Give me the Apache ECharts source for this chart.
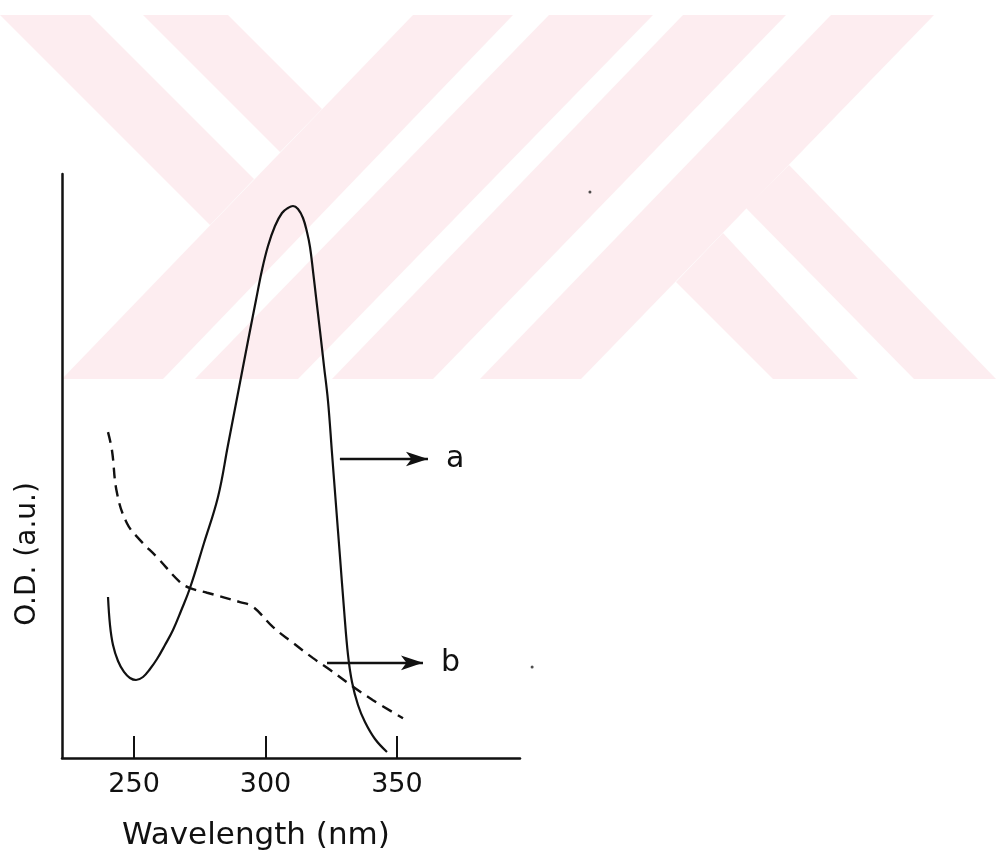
<!DOCTYPE html>
<html>
<head>
<meta charset="utf-8">
<script src="https://cdn.jsdelivr.net/npm/echarts@6/dist/echarts.min.js"></script>
<style>
html,body{margin:0;padding:0;background:#ffffff;}
#chart{width:996px;height:858px;}
</style>
</head>
<body>
<div id="chart"></div>
<script>
// ---- data ----
const wavelengthA = [240.10, 240.86, 242.00, 243.90, 246.18, 248.46, 250.75, 253.41, 256.07, 258.73, 261.77, 264.82, 267.86, 271.28, 276.61, 281.93, 285.74, 289.54, 293.34, 296.39, 298.67, 300.95, 303.61, 306.28, 308.56, 310.46, 312.36, 314.26, 315.78, 316.93, 318.07, 319.21, 320.73, 322.25, 323.77, 325.29, 326.81, 328.34, 329.86, 331.38, 332.90, 335.18, 337.84, 341.65, 346.21];
const odA = [27.57, 22.77, 19.35, 16.61, 14.73, 13.70, 13.36, 13.87, 15.24, 16.95, 19.35, 21.92, 25.17, 29.11, 36.82, 44.69, 53.60, 62.50, 71.40, 78.42, 83.56, 87.67, 91.10, 93.32, 94.18, 94.52, 94.01, 92.47, 90.07, 87.50, 83.39, 78.94, 73.12, 67.12, 61.13, 52.23, 43.32, 34.42, 25.51, 17.64, 13.01, 9.08, 6.16, 3.25, 1.03];

const wavelengthB = [240.1, 241.6, 243.5, 247.3, 252.3, 258.7, 267.5, 271.3, 277.8, 290.3, 295.2, 302.9, 310.5, 318.1, 324.5, 333.3, 340.9, 352.3];
const odB = [55.8, 52.7, 45.4, 40.2, 37.3, 34.4, 30.1, 29.1, 28.3, 26.7, 25.9, 22.4, 19.7, 17.1, 15.1, 12.2, 9.9, 6.8];

const tickValues = [250, 300, 350];
const xRange = [222.6, 396.8];
const yRange = [0, 100];

const arrowLabels = ['a', 'b'];
const arrowStartX = [328.3, 323.4];
const arrowEndX = [361.8, 359.9];
const arrowY = [51.2, 16.3];

const speckX = [423.4, 401.4];
const speckY = [96.9, 15.6];

const xAxisTitle = 'Wavelength (nm)';
const yAxisTitle = 'O.D. (a.u.)';

// ---- build chart ----
const FONT = '"DejaVu Sans", "Noto Sans", sans-serif';
const INK = '#111111';
const WM = '#fdedf0';

const zip = (xs, ys) => xs.map((x, i) => [x, ys[i]]);

const watermark = [
  [[0,15],[90,15],[254,179],[210,225]],
  [[143,15],[228,15],[322,109],[280,152]],
  [[62,379],[163,379],[513,15],[413,15]],
  [[195,379],[298,379],[653,15],[549,15]],
  [[332,379],[433,379],[786,15],[683,15]],
  [[480,379],[581,379],[934,15],[831,15]],
  [[789,165],[996,379],[914,379],[746,208]],
  [[723,233],[858,379],[773,379],[676,282]]
].map(pts => ({
  type: 'polygon', z: -10, silent: true,
  shape: { points: pts },
  style: { fill: WM }
}));

const arrowData = arrowLabels.map((lab, i) => [
  { coord: [arrowStartX[i], arrowY[i]], name: lab },
  { coord: [arrowEndX[i], arrowY[i]] }
]);

const chart = echarts.init(document.getElementById('chart'), null, { renderer: 'canvas' });
chart.setOption({
  backgroundColor: '#ffffff',
  animation: false,
  graphic: watermark,
  grid: { left: 62, right: 476, top: 174, bottom: 100, containLabel: false },
  xAxis: {
    type: 'value',
    min: xRange[0], max: xRange[1],
    name: xAxisTitle,
    nameLocation: 'middle',
    nameGap: 62,
    nameTextStyle: { fontFamily: FONT, fontSize: 31, color: INK, padding: [0, 70, 0, 0] },
    axisLine: { show: true, onZero: false, lineStyle: { color: INK, width: 2.5 } },
    axisTick: { show: true, inside: true, length: 22, customValues: tickValues, lineStyle: { color: INK, width: 2 } },
    axisLabel: { show: true, customValues: tickValues, margin: 13, fontFamily: FONT, fontSize: 27, color: INK },
    splitLine: { show: false }
  },
  yAxis: {
    type: 'value',
    min: yRange[0], max: yRange[1],
    name: yAxisTitle,
    nameLocation: 'middle',
    nameGap: 20,
    nameTextStyle: { fontFamily: FONT, fontSize: 28, color: INK, padding: [0, 176, 0, 0] },
    axisLine: { show: true, onZero: false, lineStyle: { color: INK, width: 2.5 } },
    axisTick: { show: false },
    axisLabel: { show: false },
    splitLine: { show: false }
  },
  series: [
    {
      name: 'a', type: 'line', data: zip(wavelengthA, odA),
      smooth: 0.4, showSymbol: false, symbol: 'none',
      lineStyle: { color: INK, width: 2.2, type: 'solid' },
      z: 3,
      markLine: {
        silent: true, animation: false,
        symbol: ['none', 'arrow'], symbolSize: [11, 22],
        lineStyle: { color: INK, width: 2.4, type: 'solid' },
        label: { show: true, position: 'end', distance: 18, formatter: p => p.name, fontFamily: FONT, fontSize: 30, color: INK },
        data: arrowData
      }
    },
    {
      name: 'b', type: 'line', data: zip(wavelengthB, odB),
      smooth: 0.4, showSymbol: false, symbol: 'none',
      lineStyle: { color: INK, width: 2.4, type: [11, 7] },
      z: 3
    },
    {
      name: 'specks', type: 'scatter', data: zip(speckX, speckY),
      symbolSize: 3, clip: false, silent: true,
      itemStyle: { color: '#222222' }
    }
  ]
});
</script>
</body>
</html>
